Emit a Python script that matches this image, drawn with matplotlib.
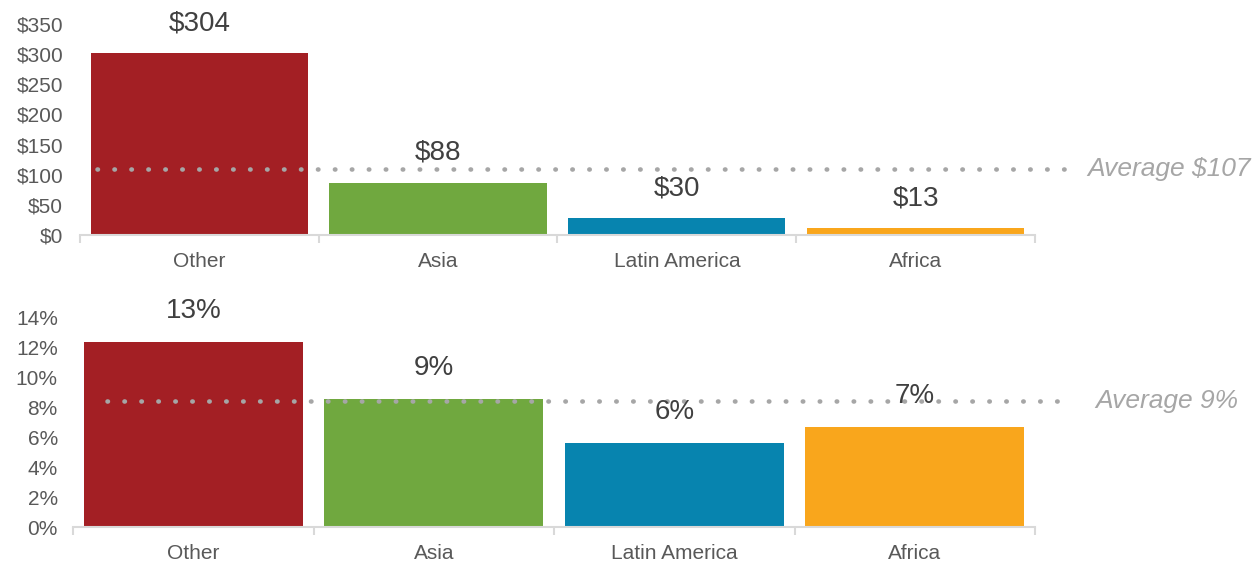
import matplotlib.pyplot as plt
from matplotlib.ticker import FuncFormatter

plt.rcParams['font.family'] = ['Liberation Sans', 'DejaVu Sans']

regions = ["Other", "Asia", "Latin America", "Africa"]
colors = ["#A31F24", "#70A83F", "#0784AF", "#F9A61C"]

# top panel: dollars
dollars = [302, 87, 28, 12]
dollar_labels = ["$304", "$88", "$30", "$13"]
dollar_avg = 109
dollar_avg_label = "Average $107"

# bottom panel: percent
pcts = [12.4, 8.6, 5.6, 6.7]
pct_labels = ["13%", "9%", "6%", "7%"]
pct_avg = 8.45
pct_avg_label = "Average 9%"

fig = plt.figure(figsize=(12.55, 5.67), dpi=100)
ax0 = fig.add_axes([0.0637, 0.5855, 0.761, 0.3722])
ax1 = fig.add_axes([0.0582, 0.0705, 0.7665, 0.3687])

tick_grey = "#595959"
avg_grey = "#A6A6A6"


def style(ax, ypad):
    for s in ["top", "right", "left"]:
        ax.spines[s].set_visible(False)
    ax.spines["bottom"].set_color("#D9D9D9")
    ax.spines["bottom"].set_linewidth(1.5)
    ax.set_xlim(-0.5, 3.5)
    ax.set_xticks([-0.5, 0.5, 1.5, 2.5, 3.5])
    ax.set_xticklabels([])
    ax.tick_params(axis="x", which="major", length=6, width=1.5, color="#D9D9D9")
    ax.set_xticks(range(len(regions)), minor=True)
    ax.set_xticklabels(regions, minor=True)
    ax.tick_params(axis="x", which="minor", length=0, pad=12,
                   labelsize=15, labelcolor=tick_grey)
    ax.tick_params(axis="y", length=0, labelsize=15, labelcolor=tick_grey, pad=ypad)


# top
ax0.bar(range(len(regions)), dollars, width=0.91, color=colors, zorder=2)
ax0.set_ylim(0, 350)
ax0.set_yticks(range(0, 351, 50))
ax0.yaxis.set_major_formatter(FuncFormatter(lambda v, p: f"${v:.0f}"))
style(ax0, 12)
for i, (v, lab) in enumerate(zip(dollars, dollar_labels)):
    ax0.annotate(lab, (i, v), xytext=(0, 12), textcoords="offset points",
                 ha="center", va="bottom", fontsize=20, color="#404040")
ax0.plot([-0.43, 3.67], [dollar_avg, dollar_avg], color=avg_grey, lw=3.3,
         linestyle=(0, (0.1, 3.6)), dash_capstyle="round", clip_on=False, zorder=3)
ax0.text(3.72, dollar_avg, dollar_avg_label, fontsize=19, style="italic",
         color=avg_grey, va="center", ha="left")

# bottom
ax1.bar(range(len(regions)), pcts, width=0.91, color=colors, zorder=2)
ax1.set_ylim(0, 14)
ax1.set_yticks(range(0, 15, 2))
ax1.yaxis.set_major_formatter(FuncFormatter(lambda v, p: f"{v:.0f}%"))
style(ax1, 11)
for i, (v, lab) in enumerate(zip(pcts, pct_labels)):
    ax1.annotate(lab, (i, v), xytext=(0, 13), textcoords="offset points",
                 ha="center", va="bottom", fontsize=20, color="#404040", zorder=4)
ax1.plot([-0.36, 3.66], [pct_avg, pct_avg], color=avg_grey, lw=3.3,
         linestyle=(0, (0.1, 3.6)), dash_capstyle="round", clip_on=False, zorder=3)
ax1.text(3.75, pct_avg, pct_avg_label, fontsize=19, style="italic",
         color=avg_grey, va="center", ha="left")

fig.savefig("out.png", dpi=100)
